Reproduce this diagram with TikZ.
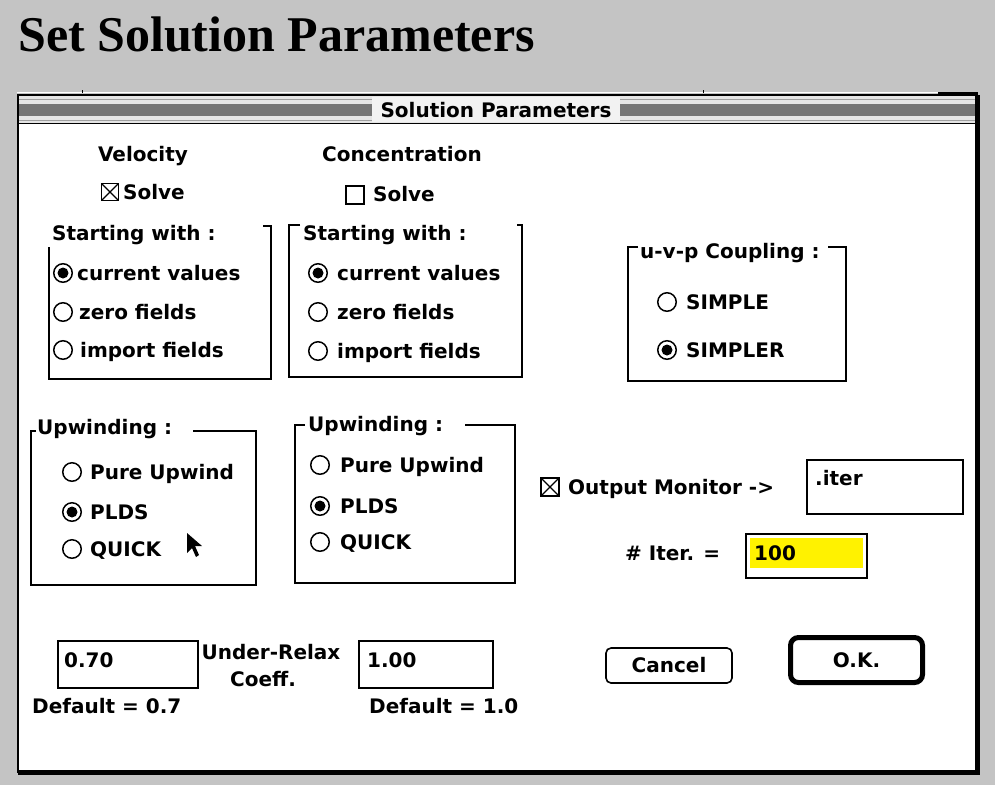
\documentclass[tikz,border=0pt]{standalone}
\usepackage{fontspec}
\usepackage{xcolor}
\usepackage{tikz}
\newfontfamily\dlgfont{DejaVu Sans}
\newfontfamily\headfont{Liberation Serif}
\definecolor{deskgray}{HTML}{C4C4C4}
\definecolor{barlight}{HTML}{E4E4E4}
\definecolor{bardark}{HTML}{747474}
\definecolor{barmid}{HTML}{A0A0A0}
\definecolor{patch}{HTML}{F2F2F2}

\tikzset{
	txt/.style={font=\dlgfont\bfseries\fontsize{20}{24}\selectfont, inner sep=0pt, text height=14.6pt, text depth=0pt},
	lbl/.style={txt, anchor=west},
	frame/.style={line width=1.6pt},
	radio/.style={draw, circle, line width=1.5pt, minimum size=18.5pt, inner sep=0pt},
	radioon/.style={radio, path picture={\fill (path picture bounding box.center) circle (5.5pt);}},
	chkbox/.style={draw, rectangle, line width=1.4pt, minimum size=17pt, inner sep=0pt},
	chkon/.style={chkbox, path picture={\draw[line width=1.2pt]
		(path picture bounding box.north west) -- (path picture bounding box.south east)
		(path picture bounding box.north east) -- (path picture bounding box.south west);}},
	field/.style={draw, rectangle, line width=1.6pt, inner sep=0pt},
	btn/.style={txt, draw, line width=1.6pt, rounded corners=5pt},
	okbtn/.style={txt, draw, line width=5pt, rounded corners=8pt},
}

\begin{document}
\begin{tikzpicture}[x=1pt,y=-1pt]
	\useasboundingbox (0,0) rectangle (995,785);
	\fill[deskgray] (0,0) rectangle (995,785);
	\node[font=\headfont\bfseries\fontsize{50}{60}\selectfont, inner sep=0pt, anchor=base west] (head) at (18,51) {Set Solution Parameters};
	%
	\draw[white, line width=1.5pt] (17,92.5) -- (938,92.5);
	\draw[line width=1pt] (82,93) -- (82,90) (703,93) -- (703,90);
	\fill (938,92) rectangle (978,95);
	% window
	\fill[white] (18,95) rectangle (977,772);
	\fill[barlight] (19,96) rectangle (976,123);
	\draw[barmid, line width=1pt] (19,99) -- (976,99) (19,120) -- (976,120);
	\fill[bardark] (19,104) rectangle (976,116);
	\fill[patch] (372,97) rectangle (620,122);
	\node[txt] (wintitle) at (496,110) {Solution Parameters};
	\draw[line width=1.6pt] (19,123.5) -- (976,123.5);
	\draw[line width=2pt] (18,95) rectangle (977,772);
	\fill (975,95) rectangle (980,775);
	\fill (18,770) rectangle (980,775);
	%
	\node[txt] (vel) at (143,154) {Velocity};
	\node[chkon] (chkV) at (110,192) {};
	\node[lbl] (solveV) at (123,192) {Solve};
	\node[txt] (conc) at (402,154) {Concentration};
	\node[chkbox, minimum size=18pt] (chkC) at (355,195) {};
	\node[lbl] (solveC) at (373,194) {Solve};
	%
	\draw[frame] (263,226) -- (271,226) -- (271,379) -- (49,379) -- (49,247);
	\node[lbl] (startV) at (52,233) {Starting with :};
	\node[radioon] (v1) at (63,273) {};
	\node[radio] (v2) at (63,312) {};
	\node[radio] (v3) at (63,350) {};
	\node[lbl] (v1t) at (77,273) {current values};
	\node[lbl] (v2t) at (79,312) {zero fields};
	\node[lbl] (v3t) at (80,350) {import fields};
	%
	\draw[frame] (300,225) -- (289,225) -- (289,377) -- (522,377) -- (522,225) -- (517,225);
	\node[lbl] (startC) at (303,233) {Starting with :};
	\node[radioon] (c1) at (318,273) {};
	\node[radio] (c2) at (318,312) {};
	\node[radio] (c3) at (318,351) {};
	\node[lbl] (c1t) at (337,273) {current values};
	\node[lbl] (c2t) at (337,312) {zero fields};
	\node[lbl] (c3t) at (337,351) {import fields};
	%
	\draw[frame] (638,247) -- (628,247) -- (628,381) -- (846,381) -- (846,247) -- (828,247);
	\node[lbl] (coup) at (640,251) {u-v-p Coupling :};
	\node[radio] (p1) at (667,302) {};
	\node[radioon] (p2) at (667,350) {};
	\node[lbl] (p1t) at (686,302) {SIMPLE};
	\node[lbl] (p2t) at (686,350) {SIMPLER};
	%
	\draw[frame] (36,431) -- (31,431) -- (31,585) -- (256,585) -- (256,431) -- (193,431);
	\node[lbl] (upV) at (37,427) {Upwinding :};
	\node[radio] (u1) at (72,472) {};
	\node[radioon] (u2) at (72,512) {};
	\node[radio] (u3) at (72,549) {};
	\node[lbl] (u1t) at (90,472) {Pure Upwind};
	\node[lbl] (u2t) at (90,512) {PLDS};
	\node[lbl] (u3t) at (90,549) {QUICK};
	\fill (187,533) -- (187,553) -- (192,548) -- (196,557) -- (199,555) -- (195,546) -- (202,546) -- cycle;
	%
	\draw[frame] (305,425) -- (295,425) -- (295,583) -- (515,583) -- (515,425) -- (465,425);
	\node[lbl] (upC) at (308,424) {Upwinding :};
	\node[radio] (w1) at (320,465) {};
	\node[radioon] (w2) at (320,506) {};
	\node[radio] (w3) at (320,542) {};
	\node[lbl] (w1t) at (340,465) {Pure Upwind};
	\node[lbl] (w2t) at (340,506) {PLDS};
	\node[lbl] (w3t) at (340,542) {QUICK};
	%
	\node[chkon, minimum size=18pt] (chkO) at (550,487) {};
	\node[lbl] (mon) at (568,487) {Output Monitor ->};
	\node[field, minimum width=156pt, minimum height=54pt] (monfile) at (885,487) {};
	\node[lbl] (montxt) at (815,478) {.iter};
	\node[lbl] (niter) at (625,553) {\# Iter. =};
	\node[field, minimum width=121pt, minimum height=44pt] (iterbox) at (806.5,556) {};
	\fill[yellow] (750,538) rectangle (863,568);
	\node[lbl] (itertxt) at (754,553) {100};
	%
	\node[field, minimum width=140pt, minimum height=47pt] (relaxV) at (128,664.5) {};
	\node[lbl] (relaxVt) at (64,660) {0.70};
	\node[txt] (relax1) at (271,652) {Under-Relax};
	\node[txt] (relax2) at (263,679) {Coeff.};
	\node[field, minimum width=134pt, minimum height=47pt] (relaxC) at (426,664.5) {};
	\node[lbl] (relaxCt) at (367,660) {1.00};
	\node[lbl] (defV) at (32,706) {Default = 0.7};
	\node[lbl] (defC) at (369,706) {Default = 1.0};
	%
	\node[btn, minimum width=126pt, minimum height=35pt] (cancel) at (669,665.5) {Cancel};
	\node[okbtn, minimum width=132pt, minimum height=45pt] (ok) at (856.5,660) {O.K.};
\end{tikzpicture}
\end{document}
